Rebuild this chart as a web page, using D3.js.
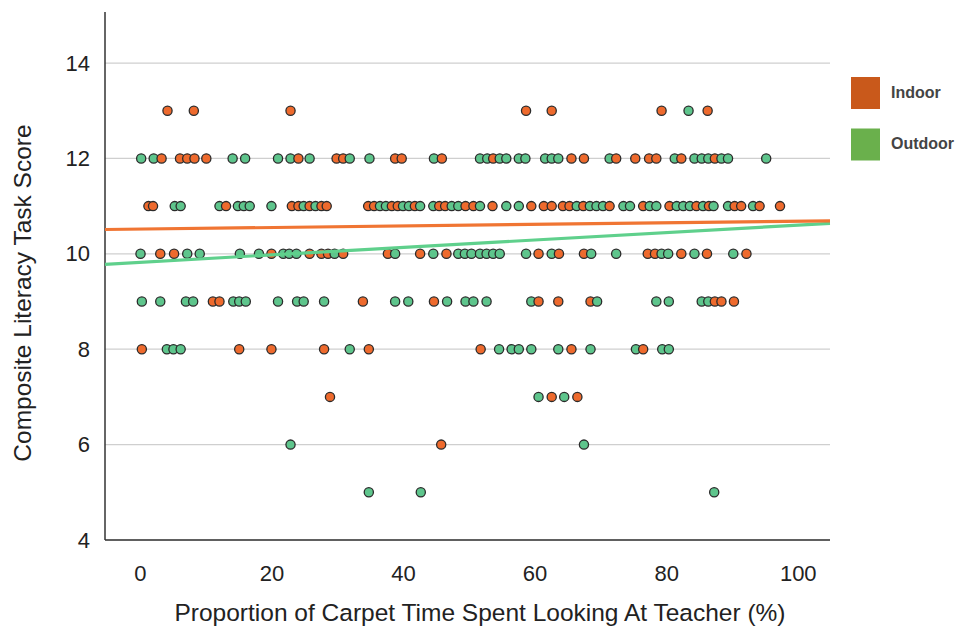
<!DOCTYPE html>
<html>
<head>
<meta charset="utf-8">
<script src="https://cdn.jsdelivr.net/npm/d3@7"></script>
<style>
  html, body { margin: 0; padding: 0; background: #fff; }
  svg { display: block; font-family: "Liberation Sans", Arial, sans-serif; }
</style>
</head>
<body>
<svg id="chart" width="960" height="630"></svg>
<script>
// Composite literacy score by % of carpet time spent looking at the teacher.
// Each row: [score, [percent values of children with that score]]
const indoorRows = [
  [13, [4.2, 8.2, 22.9, 58.7, 62.6, 79.3, 86.3]],
  [12, [3.3, 6.1, 7.2, 8.3, 10.1, 24.1, 29.9, 30.9, 38.8, 39.8, 45.9, 53.7, 65.6, 67.5, 72.4, 75.3, 77.4, 78.5, 82.3, 87.4]],
  [11, [1.3, 2.0, 13.1, 23.1, 24.1, 25.8, 27.6, 28.4, 34.7, 35.6, 38.3, 39.2, 41.8, 45.5, 46.4, 49.5, 50.7, 53.6, 59.5, 61.4, 62.6, 64.3, 65.3, 67.4, 71.4, 76.5, 80.5, 84.6, 86.5, 90.4, 91.4, 94.2, 97.3]],
  [10, [3.1, 5.2, 20.0, 25.8, 27.6, 28.6, 30.9, 37.7, 42.6, 46.6, 60.6, 63.7, 67.5, 77.2, 78.3, 82.3, 86.2, 92.2]],
  [9,  [11.1, 12.1, 33.9, 44.7, 60.6, 63.6, 68.5, 87.4, 88.4, 90.3]],
  [8,  [0.3, 15.1, 20.0, 28.0, 34.8, 51.8, 65.6, 76.5]],
  [7,  [28.9, 62.6, 66.5]],
  [6,  [45.8]]
];

const outdoorRows = [
  [13, [83.4]],
  [12, [0.2, 2.1, 14.1, 16.0, 21.0, 22.9, 25.8, 31.9, 34.9, 44.7, 51.7, 52.8, 54.7, 55.7, 57.6, 58.6, 61.6, 62.6, 63.6, 71.4, 81.3, 84.3, 85.4, 86.4, 88.4, 89.4, 95.2]],
  [11, [5.3, 6.2, 12.1, 14.9, 15.8, 16.7, 20.0, 24.9, 26.7, 36.5, 37.4, 40.0, 40.9, 42.6, 44.6, 47.4, 48.4, 51.7, 55.7, 57.6, 66.4, 68.4, 69.4, 70.4, 73.5, 74.5, 77.5, 78.5, 81.6, 82.6, 83.6, 85.6, 87.2, 89.4, 93.2]],
  [10, [0.1, 7.2, 9.1, 15.2, 18.1, 21.8, 22.7, 23.8, 29.6, 38.8, 44.6, 48.4, 49.4, 50.4, 51.7, 52.7, 53.7, 54.7, 58.7, 62.6, 68.6, 72.4, 79.3, 80.3, 84.3, 90.2]],
  [9,  [0.3, 3.1, 7.0, 8.1, 14.2, 15.1, 16.1, 21.0, 23.9, 24.9, 28.0, 38.8, 40.8, 46.7, 49.5, 50.7, 52.7, 59.5, 69.5, 78.5, 80.4, 85.4, 86.4]],
  [8,  [4.1, 5.1, 6.2, 31.9, 54.6, 56.5, 57.6, 59.5, 63.6, 68.5, 75.4, 79.4, 80.4]],
  [7,  [60.6, 64.5]],
  [6,  [22.9, 67.5]],
  [5,  [34.8, 42.7, 87.3]]
];

// Trend lines: [x, score] at the two ends of the plotted range
const indoorTrend = [[-5.3, 10.51], [104.9, 10.69]];
const outdoorTrend = [[-5.3, 9.78], [104.9, 10.64]];

const xTicks = [0, 20, 40, 60, 80, 100];
const yTicks = [4, 6, 8, 10, 12, 14];
const seriesNames = ["Indoor", "Outdoor"];

const svg = d3.select("#chart");
const plot = { left: 105, right: 830, top: 12, bottom: 540 };

const x = d3.scaleLinear().domain([-5.3, 104.9]).range([plot.left, plot.right]);
const y = d3.scaleLinear().domain([4, 15.07]).range([plot.bottom, plot.top]);

const dotFill = { Indoor: "#ee6a2d", Outdoor: "#5ec58c" };
const lineColor = { Indoor: "#f07533", Outdoor: "#5fd08c" };
const legendColor = { Indoor: "#c9591b", Outdoor: "#6ab04c" };

// Horizontal gridlines
svg.append("g")
  .selectAll("line")
  .data(yTicks)
  .join("line")
  .attr("x1", plot.left).attr("x2", plot.right)
  .attr("y1", d => y(d)).attr("y2", d => y(d))
  .attr("stroke", "#cfcfcf").attr("stroke-width", 1.2);

// Axis tick labels
const yAxis = svg.append("g")
  .attr("transform", `translate(${plot.left},0)`)
  .call(d3.axisLeft(y).tickValues(yTicks).tickSize(0).tickPadding(15));
yAxis.select(".domain").remove();
yAxis.selectAll("text").attr("font-size", 22).attr("fill", "#222")
  .attr("font-family", "'Liberation Sans', Arial, sans-serif");

const xAxis = svg.append("g")
  .attr("transform", `translate(0,${plot.bottom})`)
  .call(d3.axisBottom(x).tickValues(xTicks).tickSize(0).tickPadding(25));
xAxis.select(".domain").remove();
xAxis.selectAll("text").attr("font-size", 22).attr("fill", "#222")
  .attr("font-family", "'Liberation Sans', Arial, sans-serif");

// Axis lines
svg.append("line").attr("x1", plot.left).attr("x2", plot.left).attr("y1", plot.top).attr("y2", plot.bottom)
  .attr("stroke", "#333").attr("stroke-width", 1.5);
svg.append("line").attr("x1", plot.left).attr("x2", plot.right).attr("y1", plot.bottom).attr("y2", plot.bottom)
  .attr("stroke", "#333").attr("stroke-width", 1.5);

// Points, combined and ordered left to right
const points = [];
[["Indoor", indoorRows], ["Outdoor", outdoorRows]].forEach(([name, rows]) => {
  rows.forEach(([score, xs]) => xs.forEach(v => points.push({ name, pct: v, score })));
});
points.sort((a, b) => a.pct - b.pct);

svg.append("g")
  .selectAll("circle")
  .data(points)
  .join("circle")
  .attr("cx", d => x(d.pct))
  .attr("cy", d => y(d.score))
  .attr("r", 4.6)
  .attr("fill", d => dotFill[d.name])
  .attr("stroke", "#2b2b2b")
  .attr("stroke-width", 1.3);

// Trend lines
const line = d3.line().x(d => x(d[0])).y(d => y(d[1]));
[["Outdoor", outdoorTrend], ["Indoor", indoorTrend]].forEach(([name, pts]) => {
  svg.append("path")
    .attr("d", line(pts))
    .attr("fill", "none")
    .attr("stroke", lineColor[name])
    .attr("stroke-width", 3.2);
});

// Axis titles
svg.append("text")
  .attr("transform", `translate(31,${(plot.top + plot.bottom) / 2 + 17}) rotate(-90)`)
  .attr("text-anchor", "middle")
  .attr("font-size", 24.5).attr("fill", "#222")
  .text("Composite Literacy Task Score");

svg.append("text")
  .attr("x", 480).attr("y", 621)
  .attr("text-anchor", "middle")
  .attr("font-size", 24.5).attr("fill", "#222")
  .text("Proportion of Carpet Time Spent Looking At Teacher (%)");

// Legend
const legend = svg.append("g").attr("transform", "translate(851,77)");
const item = legend.selectAll("g")
  .data(seriesNames)
  .join("g")
  .attr("transform", (d, i) => `translate(0,${i * 51.5})`);
item.append("rect")
  .attr("width", 29).attr("height", 32)
  .attr("fill", d => legendColor[d]);
item.append("text")
  .attr("x", 40).attr("y", 15).attr("dy", "0.35em")
  .attr("font-size", 16).attr("font-weight", "bold").attr("fill", "#444")
  .text(d => d);
</script>
</body>
</html>
